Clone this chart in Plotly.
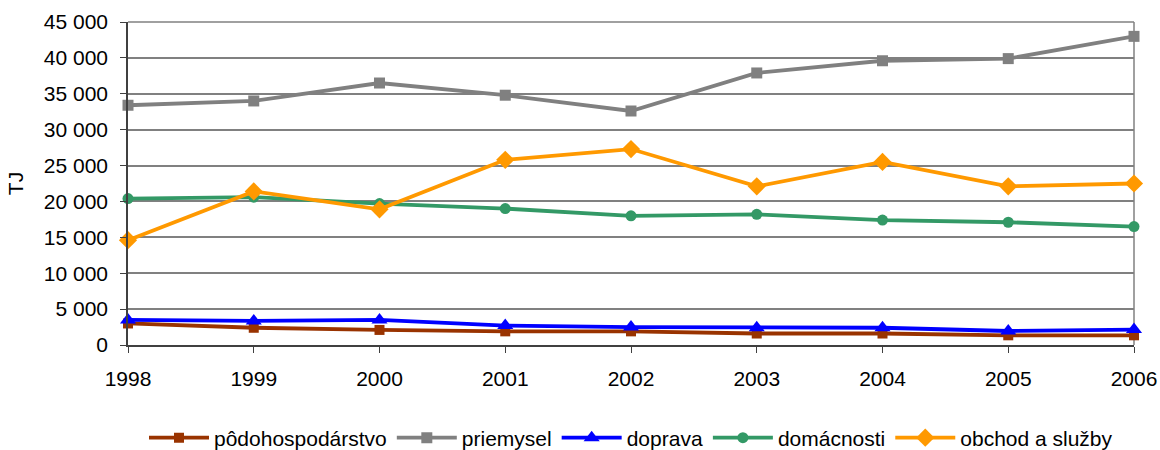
import plotly.graph_objects as go

years = [1998, 1999, 2000, 2001, 2002, 2003, 2004, 2005, 2006]
podohospodarstvo = [3000, 2400, 2100, 1900, 1900, 1600, 1600, 1350, 1350]
priemysel = [33400, 34000, 36500, 34800, 32600, 37900, 39600, 39900, 43000]
doprava = [3500, 3350, 3500, 2700, 2500, 2400, 2400, 1950, 2150]
domacnosti = [20400, 20600, 19700, 19000, 18000, 18200, 17400, 17100, 16500]
obchod = [14600, 21400, 18900, 25800, 27300, 22100, 25500, 22100, 22500]

y_ticks = [0, 5000, 10000, 15000, 20000, 25000, 30000, 35000, 40000, 45000]

series = [
    ("pôdohospodárstvo", podohospodarstvo, "#993300", "square", 10),
    ("priemysel", priemysel, "#808080", "square", 11),
    ("doprava", doprava, "#0000FF", "triangle-up", 14),
    ("domácnosti", domacnosti, "#339966", "circle", 11),
    ("obchod a služby", obchod, "#FF9900", "diamond", 14),
]

fig = go.Figure()
for name, vals, color, sym, size in series:
    fig.add_trace(go.Scatter(
        x=years, y=vals, name=name, mode="lines+markers",
        line=dict(color=color, width=3.8),
        marker=dict(symbol=sym, size=size, color=color),
        cliponaxis=False,
    ))

font = "Liberation Sans, Arial, sans-serif"
fs = 21
fig.update_layout(
    width=1160, height=475,
    margin=dict(l=128, r=26, t=22, b=130),
    paper_bgcolor="white", plot_bgcolor="white",
    separators=", ",
    font=dict(family=font, size=fs, color="black"),
    showlegend=True,
    legend=dict(orientation="h", x=0.5, xanchor="center", y=-0.288, yanchor="middle",
                font=dict(size=fs), itemwidth=60, tracegroupgap=0),
    xaxis=dict(
        range=[1998, 2006], tickvals=years, ticktext=[str(y) for y in years],
        showgrid=False, showline=True, linecolor="#404040", linewidth=1.5,
        ticks="outside", ticklen=6, tickcolor="#404040", zeroline=False,
        tickfont=dict(size=fs), automargin=False, ticklabelstandoff=8,
    ),
    yaxis=dict(
        range=[0, 45000], tickvals=y_ticks, tickformat=",d",
        showgrid=True, gridcolor="#808080", gridwidth=1.5,
        showline=True, linecolor="#404040", linewidth=1.5,
        ticks="outside", ticklen=6, tickcolor="#404040", zeroline=False,
        tickfont=dict(size=fs), automargin=False, ticklabelstandoff=8,
        title=dict(text="TJ", font=dict(size=fs), standoff=14),
    ),
    shapes=[
        dict(type="line", xref="paper", yref="paper", x0=1, x1=1, y0=0, y1=1,
             line=dict(color="#808080", width=1.5), layer="below"),
        dict(type="line", xref="paper", yref="paper", x0=0, x1=1, y0=1, y1=1,
             line=dict(color="#808080", width=1.5), layer="below"),
    ],
)

fig.write_html(
    "out.html",
    config={"displayModeBar": False},
    post_script="document.body.style.margin='0';document.body.style.overflow='hidden';",
)
